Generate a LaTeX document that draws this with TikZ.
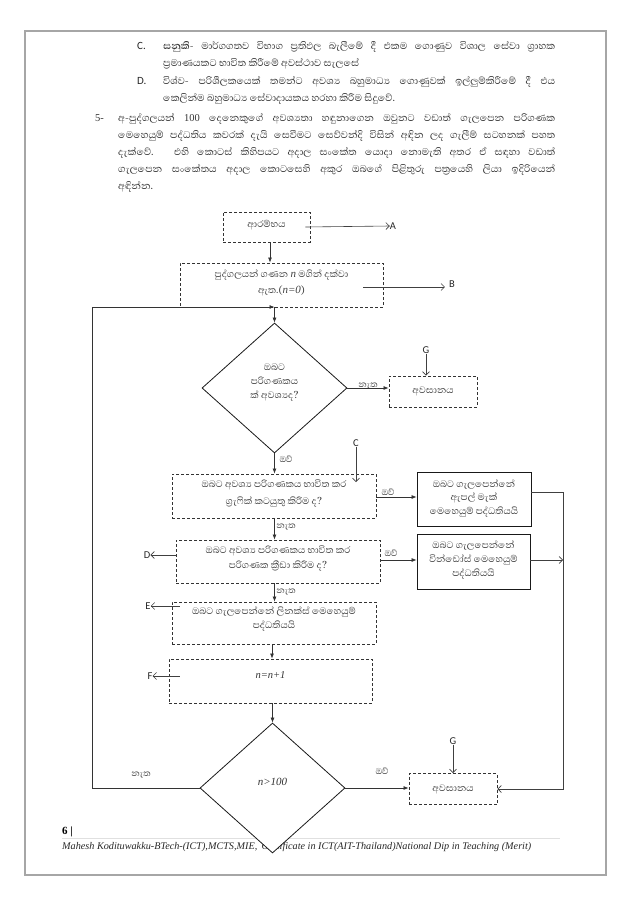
\documentclass[tikz,border=0pt]{standalone}
\usepackage{fontspec}
\setmainfont{Liberation Serif}
\newfontfamily\sinfont[Script=Sinhala]{Abhaya Libre}
\newfontfamily\calb{Carlito}
\usetikzlibrary{shapes.geometric,arrows.meta,calc}
\begin{document}
\begin{tikzpicture}[x=1pt,y=-1pt,
  dbox/.style={draw=black!80, dash pattern=on 3pt off 2pt, line width=0.9pt, inner sep=0pt},
  sbox/.style={draw=black!90, line width=0.8pt, inner sep=0pt},
  dia/.style={draw=black!90, fill=white, diamond, line width=0.8pt, inner sep=0pt},
  tx/.style={align=center, inner sep=0pt, text=black!75, font=\sinfont\fontsize{12}{#1}\selectfont},
  tx/.default=14,
  fl/.style={-{Latex[length=5pt,width=4pt]}, line width=0.7pt, draw=black!80},
  ol/.style={-{Straight Barb[length=3.5pt,width=7pt]}, line width=0.6pt, draw=black!75},
  lab/.style={font=\calb\fontsize{10.5}{12}\selectfont, inner sep=0pt, text=black!85},
  sl/.style={font=\sinfont\fontsize{11}{12}\selectfont, inner sep=0pt, text=black!75},
  para/.style={anchor=base west, inner sep=0pt, text=black!80}
]
\useasboundingbox (0,0) rectangle (638,902);
% page frame
\draw[draw=black!35, line width=1.4pt] (25,31) rectangle (606,875);

% intro text
\node[lab, anchor=base west, font=\calb\fontsize{11}{13}\selectfont] (cl) at (137,49) {C.};
\node[para] (cp) at (163,49) {\parbox[t]{392pt}{\sinfont\fontsize{12.5}{17.5}\selectfont
 \textbf{සනුකි-} මාර්ගගතව විභාග ප්^^^^200dරතිඵල බැලීමේ දී එකම ගොණුව විශාල සේවා ග්^^^^200dරාහක\linebreak
 ප්^^^^200dරමාණයකට භාවිත කිරීමේ අවස්ථාව සැලසේ}};
\node[lab, anchor=base west, font=\calb\fontsize{11}{13}\selectfont] (dl) at (137,84) {D.};
\node[para] (dp) at (163,84) {\parbox[t]{392pt}{\sinfont\fontsize{12.5}{17.5}\selectfont
 විශ්ව- පරිශීලකයෙක් තමන්ට අවශ්^^^^200dය බහුමාධ්^^^^200dය ගොණුවක් ඉල්ලුම්කිරීමේ දී එය\linebreak
 කෙලින්ම බහුමාධ්^^^^200dය සේවාදායකය හරහා කිරීම සිදුවේ.}};
\node[para, font=\fontsize{10.5}{12}\selectfont] (fl5) at (95,121) {5-};
\node[para] (fp) at (118,121) {\parbox[t]{437pt}{\sinfont\fontsize{12.5}{17.2}\selectfont
 අ-පුද්ගලයන් {\rmfamily\fontsize{10.5}{12}\selectfont 100} දෙනෙකුගේ අවශ්^^^^200dයතා හඳුනාගෙන ඔවුනට වඩාත් ගැලපෙන පරිගණක\linebreak
 මෙහෙයුම් පද්ධතිය කවරක් දැයි සෙවීමට සෙව්වන්දි විසින් අඳින ලද ගැලීම් සටහනක් පහත\linebreak
 දැක්වේ. එහි කොටස් කිහිපයට අදාල සංකේත යොදා නොමැති අතර ඒ සඳහා වඩාත්\linebreak
 ගැලපෙන සංකේතය අදාල කොටසෙහි අකුර ඔබගේ පිළිතුරු පත්^^^^200dරයෙහි ලියා ඉදිරියෙන්\linebreak
 අඳින්න.}};

% footer
\node[anchor=base west, inner sep=0pt, font=\bfseries\fontsize{11}{13}\selectfont] (pg) at (62,834) {6 |};
\draw[draw=black!12, line width=0.6pt] (62,838) -- (560,838);
\node[anchor=base west, inner sep=0pt, font=\itshape\fontsize{10.2}{12}\selectfont, text=black!85] (ft) at (62,849.5) {Mahesh Kodituwakku-BTech-(ICT),MCTS,MIE, \,Certificate in ICT(AIT-Thailand)National Dip in Teaching (Merit)};

% flowchart nodes
\node[dbox, minimum width=87pt, minimum height=30pt, label={[tx, yshift=1.5pt]center:ආරම්භය}] (start) at (266.5,227) {};
\node[dbox, minimum width=203pt, minimum height=44pt, label={[tx=16, yshift=2pt]center:{පුද්ගලයන් ගණන {\rmfamily\itshape\fontsize{11}{12}\selectfont n} මගින් දක්වා\\ ඇත.({\rmfamily\itshape\fontsize{11}{12}\selectfont n=0})}}] (box2) at (281.5,285) {};
\node[dia, minimum width=145pt, minimum height=130pt, label={[tx=14, yshift=5pt]center:{ඔබට\\ පරිගණකය\\ ක් අවශ්^^^^200dයද?}}] (d1) at (274.5,388) {};
\node[dbox, minimum width=88pt, minimum height=31pt, label={[tx]center:අවසානය}] (end1) at (433,391.5) {};
\node[dbox, minimum width=204pt, minimum height=44pt, label={[tx=17, yshift=2pt]center:{ඔබට අවශ්^^^^200dය පරිගණකය භාවිත කර\\ ග්^^^^200dරැෆික් කටයුතු කිරීම ද?}}] (box3) at (274,496) {};
\node[sbox, minimum width=114pt, minimum height=54pt, label={[tx=13.5, yshift=1pt]center:{ඔබට ගැලපෙන්නේ\\ ඇපල් මැක්\\ මෙහෙයුම් පද්ධතියයි}}] (apple) at (474,499) {};
\node[dbox, minimum width=204pt, minimum height=43pt, label={[tx=15, yshift=3pt]center:{ඔබට අවශ්^^^^200dය පරිගණකය භාවිත කර\\ පරිගණක ක්^^^^200dරීඩා කිරීම ද?}}] (box4) at (278,561.5) {};
\node[sbox, minimum width=113pt, minimum height=55pt, label={[tx=14, yshift=2pt]center:{ඔබට ගැලපෙන්නේ\\ වින්ඩෝස් මෙහෙයුම්\\ පද්ධතියයි}}] (win) at (473.5,561.5) {};
\node[dbox, minimum width=204pt, minimum height=42pt, label={[tx=14, yshift=4.5pt]center:{ඔබට ගැලපෙන්නේ ලිනක්ස් මෙහෙයුම්\\ පද්ධතියයි}}] (box5) at (274,623) {};
\node[dbox, minimum width=203pt, minimum height=44pt, label={[inner sep=0pt, text=black!80, font=\rmfamily\itshape\fontsize{10.5}{12}\selectfont, yshift=6pt]center:n=n+1}] (box6) at (270.5,681) {};
\node[dia, minimum width=145pt, minimum height=130pt, label={[inner sep=0pt, text=black!80, font=\rmfamily\itshape\fontsize{11}{12}\selectfont, yshift=6pt]center:n>100}] (d2) at (272.5,788) {};
\node[dbox, minimum width=88pt, minimum height=31pt, label={[tx]center:අවසානය}] (end2) at (453,789) {};

% letter labels
\node[lab] (A) at (393,226) {A};
\node[lab] (B) at (452,284) {B};
\node[lab] (G1) at (426,350) {G};
\node[lab] (C) at (356,443) {C};
\node[lab] (D) at (147,555) {D};
\node[lab] (E) at (148,606) {E};
\node[lab] (F) at (150,676) {F};
\node[lab] (G2) at (453,741) {G};

% yes/no labels
\node[sl] (n1) at (368,386) {නැත};
\node[sl] (y1) at (286,459) {ඔව්};
\node[sl] (y2) at (388,492) {ඔව්};
\node[sl] (n2) at (286,527) {නැත};
\node[sl] (y3) at (391,553) {ඔව්};
\node[sl] (n3) at (286,592) {නැත};
\node[sl] (n4) at (141,775) {නැත};
\node[sl] (y4) at (382,771) {ඔව්};

% connectors
\coordinate (lp1) at (92,788);
\coordinate (lp2) at (92,307);
\coordinate (cend) at (356,482);
\coordinate (rx) at (563,0);

\draw[fl] (start.south -| 270,0) -- (box2.north -| 270,0);
\draw[ol] ([xshift=-5pt]start.east) -- (A.west);
\draw[ol] ([shift={(-20pt,-2pt)}]box2.east) -- ([xshift=-4pt,yshift=-2pt]B.west |- box2.east);
\draw[fl] (d2.west) -- (lp1) -- (lp2) -- (lp2 -| d1.north);
\draw[fl] (box2.south -| d1.north) -- (d1.north);
\draw[fl] (d1.east) -- (d1.east -| end1.west);
\draw[ol] (G1.south) -- (G1.south |- end1.north);
\draw[fl] (d1.south) -- (d1.south |- box3.north);
\draw[ol] (C.south) -- (cend);
\draw[fl] ([yshift=-1pt]box3.east) -- ([yshift=-1pt]box3.east -| apple.west);
\draw[fl] (box3.south -| d1.south) -- (box4.north -| d1.south);
\draw[fl] ([yshift=1.5pt]box4.east) -- ([yshift=1.5pt]box4.east -| win.west);
\draw[ol] (box4.west |- D) -- (D.east);
\draw[fl] (box4.south -| d1.south) -- (box5.north -| d1.south);
\draw[ol] ($(box5.west |- E)+(8,0)$) -- (E.east);
\draw[fl] (box5.south -| 272,0) -- (box6.north -| 272,0);
\draw[ol] ($(box6.west |- F)+(11,0)$) -- (F.east);
\draw[fl] (box6.south -| d2.north) -- (d2.north);
\draw[fl] (d2.east) -- (d2.east -| end2.west);
\draw[ol] (G2.south) -- (G2.south |- end2.north);
\draw[ol, line width=0.7pt] ([yshift=7pt]apple.east) -- ([yshift=7pt]apple.east -| rx) -- (rx |- end2.east) -- (end2.east);
\draw[ol] ([yshift=1.5pt]win.east) -- ([yshift=1.5pt]win.east -| rx);
\end{tikzpicture}
\end{document}
